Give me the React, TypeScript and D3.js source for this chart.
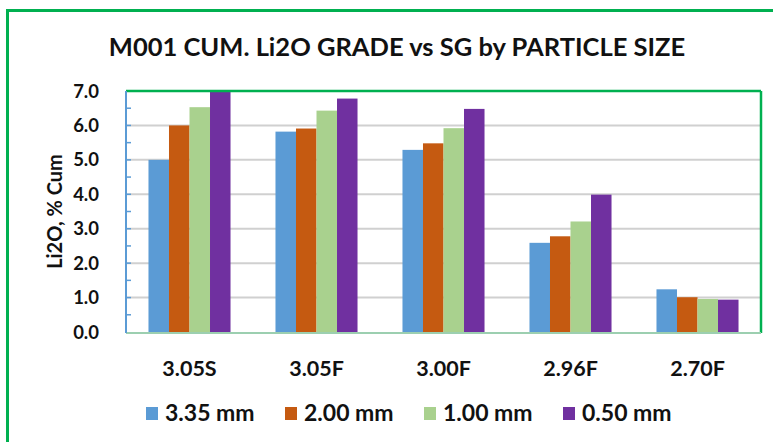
import React, { useEffect, useRef } from 'react'
import * as d3 from 'd3'

const categories = ['3.05S', '3.05F', '3.00F', '2.96F', '2.70F']
const seriesNames = ['3.35 mm', '2.00 mm', '1.00 mm', '0.50 mm']
const seriesColors = ['#5B9BD5', '#C55A11', '#A9D18E', '#7030A0']
const s335 = [5.0, 5.82, 5.29, 2.59, 1.24]
const s200 = [6.0, 5.91, 5.48, 2.78, 1.01]
const s100 = [6.53, 6.43, 5.92, 3.21, 0.96]
const s050 = [7.0, 6.78, 6.48, 3.99, 0.94]
const yTicks = [0, 1, 2, 3, 4, 5, 6, 7]

const FONT = 'Lato, "Open Sans", sans-serif'

export default function App() {
  const ref = useRef<SVGSVGElement | null>(null)

  useEffect(() => {
    const svg = d3.select(ref.current)
    svg.selectAll('*').remove()
    const width = 773, height = 442
    const left = 126, right = 761, top = 91, bottom = 332
    const values = [s335, s200, s100, s050]

    svg.append('rect').attr('width', width).attr('height', height).attr('fill', '#fff')
    // outer frame
    svg.append('rect')
      .attr('x', 7.5).attr('y', 10.5).attr('width', 780).attr('height', 450)
      .attr('fill', 'none').attr('stroke', '#00B050').attr('stroke-width', 3)

    svg.append('text')
      .attr('x', 397).attr('y', 56)
      .attr('text-anchor', 'middle')
      .attr('font-family', FONT).attr('font-weight', 'bold').attr('font-size', 25.5)
      .attr('fill', '#111')
      .text('M001 CUM. Li2O GRADE vs SG by PARTICLE SIZE')

    const x = d3.scaleBand().domain(categories).range([left, right])
    const y = d3.scaleLinear().domain([0, 7]).range([bottom, top])
    const groupW = x.bandwidth() * 0.646
    const x1 = d3.scaleBand().domain(seriesNames).range([0, groupW])

    // gridlines
    svg.append('g').selectAll('line').data(yTicks.slice(1)).join('line')
      .attr('x1', left).attr('x2', right)
      .attr('y1', d => y(d)).attr('y2', d => y(d))
      .attr('stroke', '#D0D0D0').attr('stroke-width', 2)

    // bars
    values.forEach((vals, si) => {
      svg.append('g').selectAll('rect').data(vals).join('rect')
        .attr('x', (d, i) => (x(categories[i]) as number) + (x.bandwidth() - groupW) / 2 + (x1(seriesNames[si]) as number))
        .attr('y', d => y(d))
        .attr('width', x1.bandwidth())
        .attr('height', d => bottom - y(d))
        .attr('fill', seriesColors[si])
    })

    // plot frame
    svg.append('line').attr('x1', left).attr('x2', right).attr('y1', top).attr('y2', top)
      .attr('stroke', '#00B050').attr('stroke-width', 2.5)
    svg.append('line').attr('x1', right).attr('x2', right).attr('y1', top).attr('y2', bottom + 1)
      .attr('stroke', '#00B050').attr('stroke-width', 2.5)
    svg.append('line').attr('x1', left).attr('x2', right).attr('y1', bottom + 1).attr('y2', bottom + 1)
      .attr('stroke', '#9CCFB0').attr('stroke-width', 2)
    svg.append('line').attr('x1', left).attr('x2', left).attr('y1', top).attr('y2', bottom + 1)
      .attr('stroke', '#5B9BD5').attr('stroke-width', 2)

    // minor ticks inside left axis
    svg.append('g').selectAll('line').data(d3.range(0.5, 7, 0.5)).join('line')
      .attr('x1', left).attr('x2', left + 5)
      .attr('y1', d => y(d)).attr('y2', d => y(d))
      .attr('stroke', '#5B9BD5').attr('stroke-width', 1.5)

    // y tick labels
    svg.append('g').selectAll('text').data(yTicks).join('text')
      .attr('x', 99).attr('y', d => y(d) + 6.5)
      .attr('text-anchor', 'end')
      .attr('font-family', FONT).attr('font-weight', 'bold').attr('font-size', 18.5)
      .attr('fill', '#111')
      .text(d => d.toFixed(1))

    svg.append('text')
      .attr('transform', `translate(62,${(top + bottom) / 2}) rotate(-90)`)
      .attr('text-anchor', 'middle')
      .attr('font-family', FONT).attr('font-weight', 'bold').attr('font-size', 20)
      .attr('fill', '#111')
      .text('Li2O, % Cum')

    // x labels
    svg.append('g').selectAll('text').data(categories).join('text')
      .attr('x', d => (x(d) as number) + x.bandwidth() / 2)
      .attr('y', 376)
      .attr('text-anchor', 'middle')
      .attr('font-family', FONT).attr('font-weight', 'bold').attr('font-size', 21.5)
      .attr('fill', '#111')
      .text(d => d)

    // legend
    const legendX = [146, 285, 424, 563]
    const lg = svg.append('g').selectAll('g').data(seriesNames).join('g')
      .attr('transform', (d, i) => `translate(${legendX[i]},407)`)
    lg.append('rect').attr('width', 12).attr('height', 13).attr('fill', (d, i) => seriesColors[i])
    lg.append('text').attr('x', 19).attr('y', 14)
      .attr('font-family', FONT).attr('font-weight', 'bold').attr('font-size', 23)
      .attr('fill', '#111')
      .text(d => d)
  }, [])

  return (
    <div style={{ position: 'absolute', left: 0, top: 0 }}>
      <svg ref={ref} width={773} height={442} />
    </div>
  )
}
